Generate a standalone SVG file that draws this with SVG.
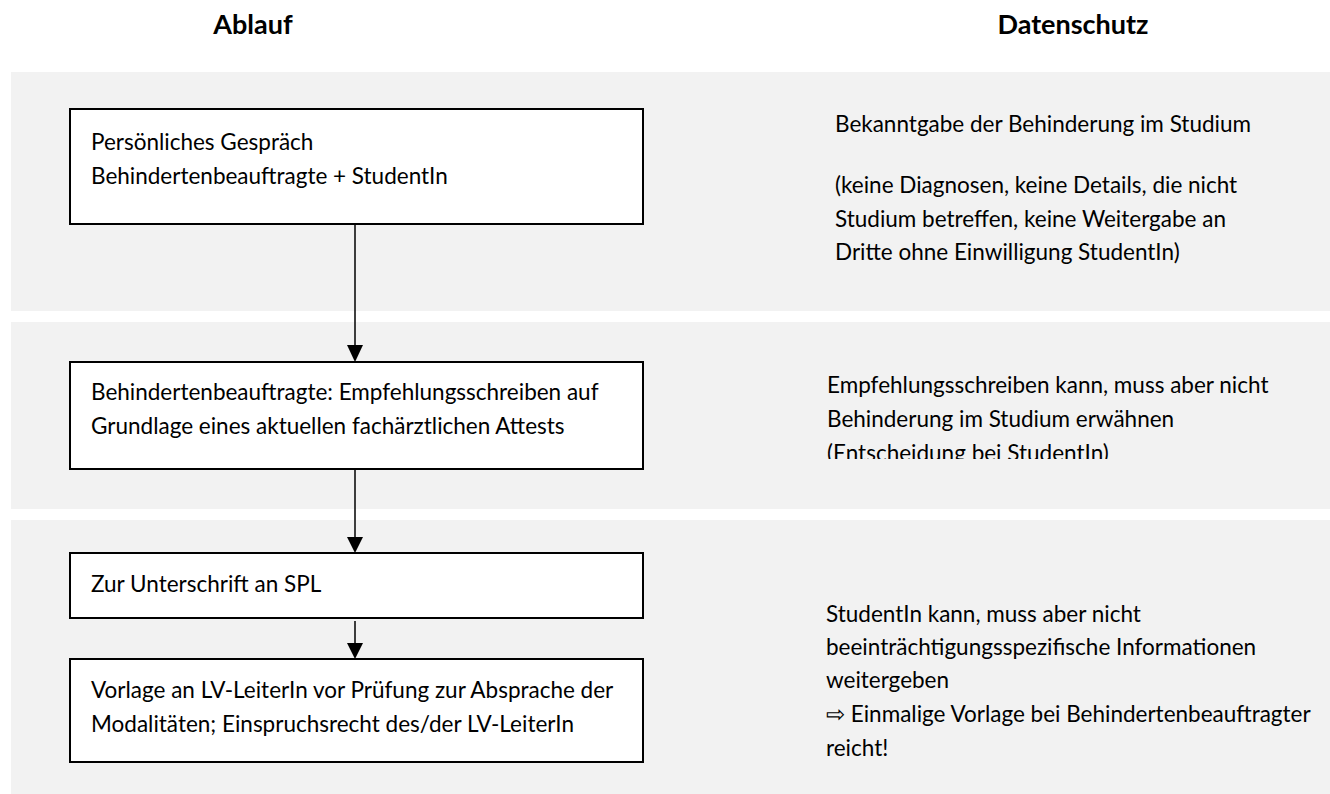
<svg xmlns="http://www.w3.org/2000/svg" width="1330" height="794" viewBox="0 0 1330 794">
<style>
.band{fill:#f2f2f2}
.box{fill:#ffffff;stroke:#000;stroke-width:2}
.t{font-family:Lato,"Open Sans","Liberation Sans",sans-serif;font-size:22.5px;fill:#000}
.h{font-family:Lato,"Open Sans","Liberation Sans",sans-serif;font-size:27px;font-weight:bold;fill:#000;text-anchor:middle}
.c{stroke:#000;stroke-width:1.5;fill:none}
</style>
<defs>
<clipPath id="clip2"><rect x="800" y="300" width="530" height="159"/></clipPath>
</defs>
<rect width="1330" height="794" fill="#fff"/>
<g id="bands">
<rect class="band" x="11" y="72" width="1319" height="239"/>
<rect class="band" x="11" y="322" width="1319" height="187"/>
<rect class="band" x="11" y="520" width="1319" height="274"/>
</g>
<g id="headers">
<text class="h" x="253" y="34">Ablauf</text>
<text class="h" x="1073" y="34">Datenschutz</text>
</g>
<g id="connectors">
<line class="c" x1="355" y1="224" x2="355" y2="345"/>
<path d="M347,345 L363,345 L355,362 Z" fill="#000"/>
<line class="c" x1="355" y1="469" x2="355" y2="537"/>
<path d="M347,537 L363,537 L355,553 Z" fill="#000"/>
<line class="c" x1="355" y1="621" x2="355" y2="643"/>
<path d="M347,643 L363,643 L355,659 Z" fill="#000"/>
</g>
<g id="node1">
<rect class="box" x="70" y="109" width="573" height="115"/>
<text class="t" x="91" y="150">Persönliches Gespräch</text>
<text class="t" x="91" y="184">Behindertenbeauftragte + StudentIn</text>
</g>
<g id="node2">
<rect class="box" x="70" y="362" width="573" height="107"/>
<text class="t" x="91" y="400">Behindertenbeauftragte: Empfehlungsschreiben auf</text>
<text class="t" x="91" y="434">Grundlage eines aktuellen fachärztlichen Attests</text>
</g>
<g id="node3">
<rect class="box" x="70" y="553" width="573" height="65"/>
<text class="t" x="91" y="592">Zur Unterschrift an SPL</text>
</g>
<g id="node4">
<rect class="box" x="70" y="659" width="573" height="103"/>
<text class="t" x="91" y="698">Vorlage an LV-LeiterIn vor Prüfung zur Absprache der</text>
<text class="t" x="91" y="732">Modalitäten; Einspruchsrecht des/der LV-LeiterIn</text>
</g>
<g id="note1">
<text class="t" x="835" y="132">Bekanntgabe der Behinderung im Studium</text>
<text class="t" x="835" y="193">(keine Diagnosen, keine Details, die nicht</text>
<text class="t" x="835" y="227">Studium betreffen, keine Weitergabe an</text>
<text class="t" x="835" y="260">Dritte ohne Einwilligung StudentIn)</text>
</g>
<g id="note2" clip-path="url(#clip2)">
<text class="t" x="827" y="393">Empfehlungsschreiben kann, muss aber nicht</text>
<text class="t" x="827" y="427">Behinderung im Studium erwähnen</text>
<text class="t" x="827" y="461">(Entscheidung bei StudentIn)</text>
</g>
<g id="note3">
<text class="t" x="826" y="622">StudentIn kann, muss aber nicht</text>
<text class="t" x="826" y="655">beeinträchtigungsspezifische Informationen</text>
<text class="t" x="826" y="688">weitergeben</text>
<text class="t" x="826" y="722">⇨ Einmalige Vorlage bei Behindertenbeauftragter</text>
<text class="t" x="826" y="756">reicht!</text>
</g>
</svg>
